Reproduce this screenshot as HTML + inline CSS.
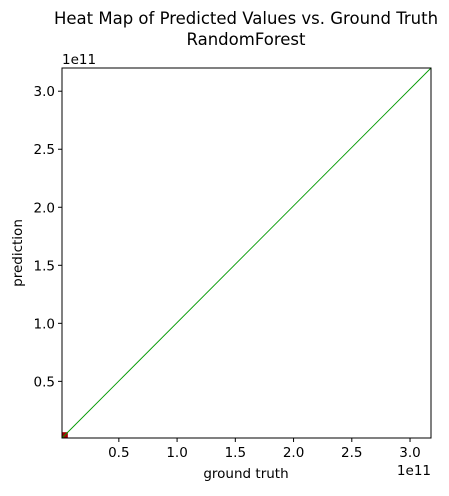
<!DOCTYPE html>
<html><head><meta charset="utf-8"><style>
body{margin:0;background:#fff;font-family:"Liberation Sans","DejaVu Sans",sans-serif;}
svg text{font-family:"DejaVu Sans","Liberation Sans",sans-serif;}
</style></head><body>
<svg width="449" height="491" id="c">
<text x="246" y="24" text-anchor="middle" font-size="16.5">Heat Map of Predicted Values vs. Ground Truth</text>
<text x="246" y="45" text-anchor="middle" font-size="16.5">RandomForest</text>
<text x="246" y="478" text-anchor="middle" font-size="13.5">ground truth</text>
<text x="22" y="253" text-anchor="middle" font-size="13.5" transform="rotate(-90 22 253)">prediction</text>
<text x="62" y="64" font-size="13.5">1e11</text>
<text x="431" y="475" text-anchor="end" font-size="13.5">1e11</text>
<g id="marks"></g>
<rect x="62" y="68" width="369" height="370" fill="none" stroke="#000" stroke-width="1"/>
<g id="ticks"></g>
</svg>
<script>
const xTicks=[0.5,1.0,1.5,2.0,2.5,3.0];
const yTicks=[0.5,1.0,1.5,2.0,2.5,3.0];
const xDomain=[0.012,3.18];
const yDomain=[0.012,3.2];
const lineX=[0.012,3.2];
const lineY=[0.012,3.2];
const cellX=[0.012];const cellY=[0.012];const cellSize=[0.05];
const L=62,R=431,T=68,B=438;
const sx=v=>L+(v-xDomain[0])/(xDomain[1]-xDomain[0])*(R-L);
const sy=v=>B-(v-yDomain[0])/(yDomain[1]-yDomain[0])*(B-T);
const NS="http://www.w3.org/2000/svg";
const m=document.getElementById('marks'),t=document.getElementById('ticks');
function mk(tag,a,p){const e=document.createElementNS(NS,tag);for(const k in a)e.setAttribute(k,a[k]);p.appendChild(e);return e;}
for(let i=0;i<cellX.length;i++){
const r=mk('rect',{x:sx(cellX[i]),y:sy(cellY[i]+cellSize[i]),width:sx(cellX[i]+cellSize[i])-sx(cellX[i]),height:sy(cellY[i])-sy(cellY[i]+cellSize[i]),fill:'#a50000'},m);


}
const ln=mk('line',{x1:sx(lineX[0]),y1:sy(lineY[0]),x2:Math.min(R,sx(lineX[1])),y2:sy(lineY[1]),stroke:'#009900','stroke-width':0.9},m);


xTicks.forEach(v=>{const x=sx(v);
const l=mk('line',{x1:x,y1:B,x2:x,y2:B+4,stroke:'#000'},t);


const s=mk('text',{x:x,y:B+19,'text-anchor':'middle','font-size':13.5},t);s.textContent=v.toFixed(1);

});
yTicks.forEach(v=>{const y=sy(v);
const l=mk('line',{x1:L-4,y1:y,x2:L,y2:y,stroke:'#000'},t);


const s=mk('text',{x:L-7,y:y+5,'text-anchor':'end','font-size':13.5},t);s.textContent=v.toFixed(1);

});
</script>
</body></html>
